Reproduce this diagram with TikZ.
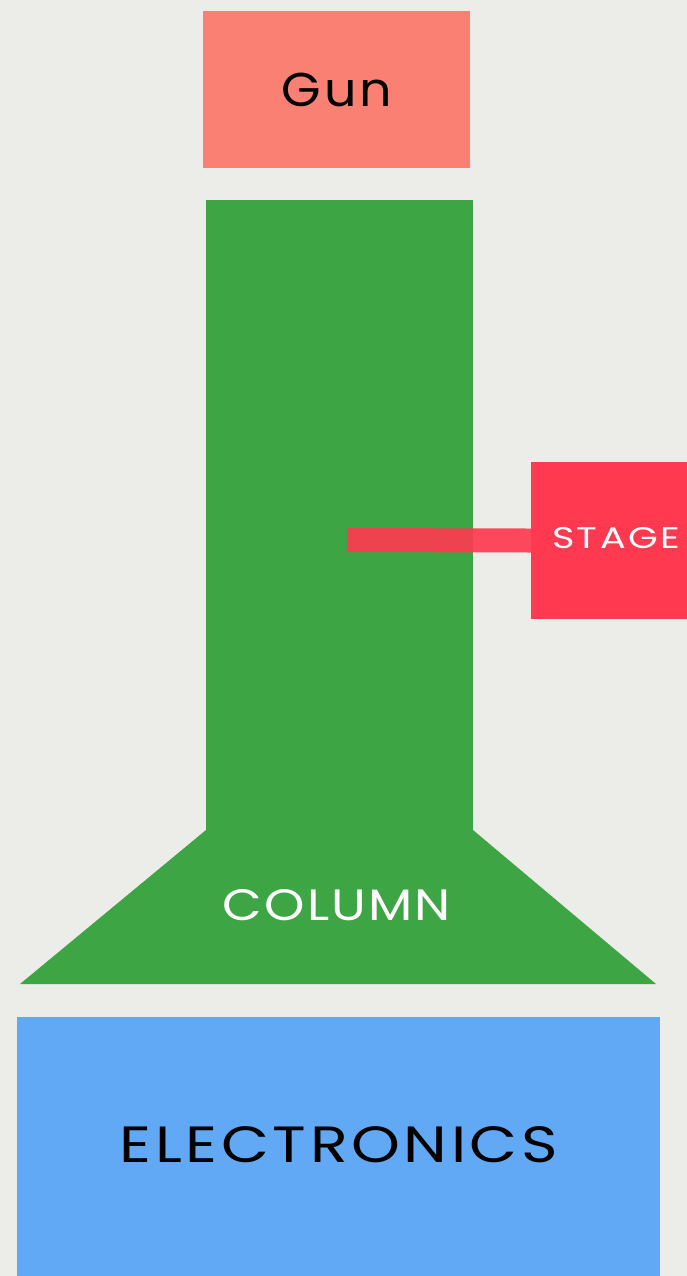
\documentclass[tikz,border=0pt]{standalone}
\usepackage{fontspec}
\setmainfont{Poppins}
\definecolor{bgpaper}{RGB}{236,237,233}
\definecolor{gunred}{RGB}{250,128,116}
\definecolor{colgreen}{RGB}{62,165,68}
\definecolor{stagered}{RGB}{255,58,80}
\definecolor{elecblue}{RGB}{97,169,244}
\begin{document}
\begin{tikzpicture}[x=0.02cm, y=-0.02cm,
    block/.style={inner sep=0pt, outer sep=0pt},
    tag/.style={inner sep=0pt}]
    % paper
    \fill[bgpaper] (0, 0) rectangle (687, 1276);
    \useasboundingbox (0, 0) rectangle (687, 1276);

    % parts of the microscope
    \node[block, fill=gunred, minimum width=5.34cm, minimum height=3.14cm] (gun) at (336.5, 89.5) {};
    \node[block, fill=colgreen, minimum width=5.34cm, minimum height=12.6cm] (column) at (339.5, 515) {};
    \fill[colgreen] (206, 830) -- (473, 830) -- (656, 984) -- (20, 984) -- cycle;
    \node[block, fill=stagered, minimum width=3.12cm, minimum height=3.14cm] (stage) at (609, 540.5) {};
    \node[block, fill=elecblue, minimum width=12.86cm, minimum height=5.18cm] (electronics) at (338.5, 1146.5) {};

    % stage arm into the column
    \coordinate (probe) at (347, 540);
    \draw[stagered, opacity=0.92, line width=0.48cm] (stage.west) -- (probe);

    % labels
    \node[tag, font=\fontsize{27}{32}\selectfont\addfontfeatures{LetterSpace=6, FakeStretch=1.07}] (gunlabel) at (337, 90) {Gun};
    \node[tag, white, font=\fontsize{25}{30}\selectfont\addfontfeatures{LetterSpace=5, FakeStretch=1.17}] (collabel) at (337, 905) {COLUMN};
    \node[tag, white, font=\fontsize{17}{22}\selectfont\addfontfeatures{LetterSpace=8, FakeStretch=1.28}] (stagelabel) at (616, 538) {STAGE};
    \node[tag, font=\fontsize{29}{34}\selectfont\addfontfeatures{LetterSpace=7, FakeStretch=1.22}] (eleclabel) at (339, 1145) {ELECTRONICS};
\end{tikzpicture}
\end{document}
